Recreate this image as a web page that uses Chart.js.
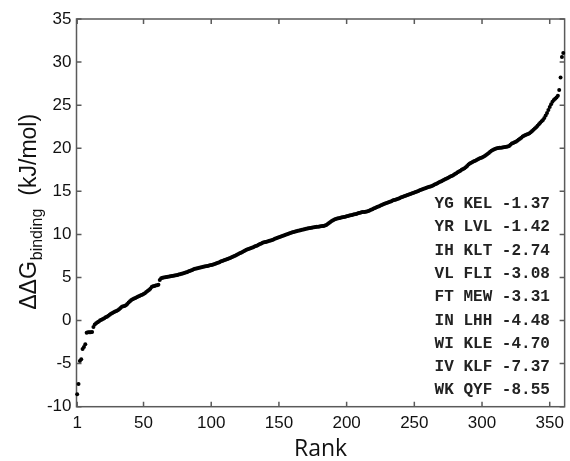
<!DOCTYPE html>
<html>
<head>
<meta charset="utf-8">
<script src="https://cdn.jsdelivr.net/npm/chart.js@4/dist/chart.umd.min.js"></script>
<style>
  html, body { margin: 0; padding: 0; background: #fff; }
  #wrap { width: 570px; height: 461px; }
</style>
</head>
<body>
<div id="wrap"><canvas id="c" width="570" height="461"></canvas></div>
<script>
// binding free energy change per sequence pair, sorted by rank (kJ/mol)
const rankValues = [
  -8.55, -7.37, -4.70, -4.48, -3.31, -3.08, -2.74, -1.42, -1.37, -1.36,
  -1.35, -1.33, -0.75, -0.45, -0.30, -0.20, -0.10, 0.02, 0.10, 0.18,
  0.28, 0.37, 0.45, 0.55, 0.66, 0.80, 0.88, 0.95, 1.05, 1.12,
  1.20, 1.30, 1.45, 1.60, 1.66, 1.70, 1.78, 1.92, 2.10, 2.25,
  2.38, 2.48, 2.55, 2.63, 2.70, 2.78, 2.86, 2.93, 3.00, 3.08,
  3.18, 3.30, 3.42, 3.55, 3.70, 3.88, 3.98, 4.02, 4.06, 4.10,
  4.15, 4.72, 4.90, 4.96, 5.00, 5.03, 5.06, 5.09, 5.12, 5.15,
  5.18, 5.21, 5.24, 5.27, 5.30, 5.34, 5.38, 5.42, 5.47, 5.52,
  5.57, 5.62, 5.68, 5.74, 5.80, 5.87, 5.94, 6.00, 6.04, 6.08,
  6.12, 6.16, 6.20, 6.24, 6.27, 6.30, 6.33, 6.37, 6.41, 6.45,
  6.49, 6.54, 6.60, 6.66, 6.72, 6.78, 6.84, 6.90, 6.96, 7.02,
  7.08, 7.14, 7.20, 7.27, 7.34, 7.41, 7.48, 7.56, 7.64, 7.72,
  7.80, 7.88, 7.96, 8.05, 8.14, 8.22, 8.28, 8.34, 8.40, 8.46,
  8.52, 8.58, 8.65, 8.72, 8.80, 8.88, 8.95, 9.02, 9.08, 9.12,
  9.16, 9.20, 9.25, 9.30, 9.36, 9.42, 9.48, 9.54, 9.60, 9.66,
  9.72, 9.78, 9.84, 9.90, 9.96, 10.02, 10.08, 10.14, 10.20, 10.25,
  10.29, 10.33, 10.37, 10.41, 10.45, 10.49, 10.53, 10.57, 10.61, 10.64,
  10.67, 10.70, 10.73, 10.76, 10.79, 10.82, 10.85, 10.88, 10.90, 10.92,
  10.94, 10.96, 10.98, 11.02, 11.10, 11.20, 11.32, 11.45, 11.56, 11.65,
  11.72, 11.78, 11.83, 11.87, 11.91, 11.95, 11.99, 12.02, 12.06, 12.10,
  12.14, 12.18, 12.22, 12.26, 12.30, 12.34, 12.38, 12.43, 12.48, 12.52,
  12.56, 12.59, 12.61, 12.63, 12.67, 12.72, 12.78, 12.85, 12.92, 13.00,
  13.07, 13.14, 13.21, 13.28, 13.35, 13.42, 13.49, 13.56, 13.62, 13.68,
  13.74, 13.80, 13.86, 13.92, 13.98, 14.03, 14.08, 14.13, 14.20, 14.27,
  14.33, 14.39, 14.45, 14.51, 14.57, 14.63, 14.69, 14.75, 14.81, 14.87,
  14.93, 14.99, 15.05, 15.11, 15.17, 15.23, 15.29, 15.35, 15.41, 15.47,
  15.52, 15.57, 15.63, 15.70, 15.78, 15.86, 15.94, 16.02, 16.10, 16.18,
  16.26, 16.34, 16.42, 16.50, 16.58, 16.66, 16.74, 16.82, 16.90, 17.00,
  17.10, 17.20, 17.30, 17.40, 17.50, 17.60, 17.68, 17.80, 17.95, 18.10,
  18.22, 18.32, 18.40, 18.48, 18.56, 18.64, 18.72, 18.80, 18.86, 18.92,
  19.00, 19.10, 19.22, 19.34, 19.46, 19.58, 19.70, 19.80, 19.88, 19.95,
  20.00, 20.03, 20.05, 20.07, 20.09, 20.11, 20.13, 20.16, 20.20, 20.25,
  20.40, 20.55, 20.62, 20.68, 20.76, 20.86, 20.98, 21.10, 21.22, 21.35,
  21.45, 21.53, 21.60, 21.66, 21.73, 21.85, 22.00, 22.15, 22.30, 22.45,
  22.62, 22.78, 22.95, 23.12, 23.28, 23.50, 23.80, 24.10, 24.45, 24.80,
  25.10, 25.40, 25.60, 25.75, 25.90, 26.10, 26.75, 28.20, 30.60, 31.05
];

const xTickValues = [1, 50, 100, 150, 200, 250, 300, 350];
const yTickValues = [-10, -5, 0, 5, 10, 15, 20, 25, 30, 35];

// the nine lowest pairs, listed in the inset
const pairNames = ['YG KEL', 'YR LVL', 'IH KLT', 'VL FLI', 'FT MEW', 'IN LHH', 'WI KLE', 'IV KLF', 'WK QYF'];
const pairValues = [-1.37, -1.42, -2.74, -3.08, -3.31, -4.48, -4.70, -7.37, -8.55];

const points = rankValues.map((v, i) => ({ x: i + 1, y: v }));

const frameColor = '#5a5a5a';
const textColor = '#111';

const framePlugin = {
    id: 'framePlugin',
    beforeDatasetsDraw(chart) {
        const { ctx, chartArea: a } = chart;
        ctx.save();
        ctx.strokeStyle = frameColor;
        ctx.lineWidth = 1.5;
        ctx.strokeRect(a.left, a.top, a.right - a.left, a.bottom - a.top);
        ctx.restore();
    },
    afterDraw(chart) {
        const { ctx, chartArea: a, scales: { x, y } } = chart;
        ctx.save();
        ctx.strokeStyle = frameColor;
        ctx.lineWidth = 1.5;

        // inward tick marks on all four sides
        ctx.beginPath();
        x.ticks.forEach(t => {
            const px = x.getPixelForValue(t.value);
            ctx.moveTo(px, a.bottom); ctx.lineTo(px, a.bottom - 5);
            ctx.moveTo(px, a.top); ctx.lineTo(px, a.top + 5);
        });
        y.ticks.forEach(t => {
            const py = y.getPixelForValue(t.value);
            ctx.moveTo(a.left, py); ctx.lineTo(a.left + 5, py);
            ctx.moveTo(a.right, py); ctx.lineTo(a.right - 5, py);
        });
        ctx.stroke();

        // inset list
        ctx.fillStyle = '#222';
        ctx.font = 'bold 16px "Liberation Mono", "Courier New", monospace';
        ctx.textBaseline = 'middle';
        ctx.textAlign = 'left';
        pairNames.forEach((name, i) => {
            ctx.fillText(name + ' ' + pairValues[i].toFixed(2), a.right - 130, a.top + 185 + i * 23.3);
        });

        // y axis title with subscript
        const main = '23px "Liberation Sans", Arial, sans-serif';
        const sub = '16px "Liberation Sans", Arial, sans-serif';
        ctx.fillStyle = textColor;
        ctx.textBaseline = 'alphabetic';
        ctx.font = main;
        const w1 = ctx.measureText('\u0394\u0394G').width;
        const w3 = ctx.measureText('(kJ/mol)').width;
        ctx.font = sub;
        const w2 = ctx.measureText('binding').width;
        const gap = 14;
        const total = w1 + w2 + gap + w3;
        const cy = (a.top + a.bottom) / 2 - 1;
        ctx.translate(36, cy);
        ctx.rotate(-Math.PI / 2);
        let u = -total / 2;
        ctx.font = main;
        ctx.fillText('\u0394\u0394G', u, 0);
        u += w1 + 1;
        ctx.font = sub;
        ctx.fillText('binding', u, 6);
        u += w2 + gap - 1;
        ctx.font = main;
        ctx.fillText('(kJ/mol)', u, 0);
        ctx.restore();
    }
};

const ctx = document.getElementById('c').getContext('2d');

const chart = new Chart(ctx, {
    type: 'scatter',
    data: {
        datasets: [{
            data: points,
            backgroundColor: '#000',
            borderWidth: 0,
            pointRadius: 2,
            pointHoverRadius: 2,
            clip: false
        }]
    },
    options: {
        responsive: false,
        animation: false,
        devicePixelRatio: 1,
        layout: { padding: { top: 19, right: 3, left: 0, bottom: 0 } },
        plugins: {
            legend: { display: false },
            tooltip: { enabled: false }
        },
        scales: {
            x: {
                type: 'linear',
                min: 0.5,
                max: 361,
                grid: { display: false, drawTicks: false },
                border: { display: false },
                afterBuildTicks: scale => {
                    scale.ticks = xTickValues.map(v => ({ value: v }));
                },
                afterFit: scale => { scale.height = 54.3; },
                ticks: {
                    padding: 6,
                    color: textColor,
                    font: { family: '"Liberation Sans", Arial, sans-serif', size: 17 },
                    maxRotation: 0,
                    callback: v => String(v)
                },
                title: {
                    display: true,
                    text: 'Rank',
                    color: textColor,
                    padding: { top: 0, bottom: 0 },
                    font: { family: '"Open Sans", sans-serif', size: 23, lineHeight: 1 }
                }
            },
            y: {
                type: 'linear',
                min: -10,
                max: 35,
                grid: { display: false, drawTicks: false },
                border: { display: false },
                afterBuildTicks: scale => {
                    scale.ticks = yTickValues.map(v => ({ value: v }));
                },
                afterFit: scale => { scale.width = 76.5; },
                ticks: {
                    padding: 5,
                    color: textColor,
                    font: { family: '"Liberation Sans", Arial, sans-serif', size: 17 },
                    callback: v => String(v)
                }
            }
        }
    },
    plugins: [framePlugin]
});
</script>
</body>
</html>
